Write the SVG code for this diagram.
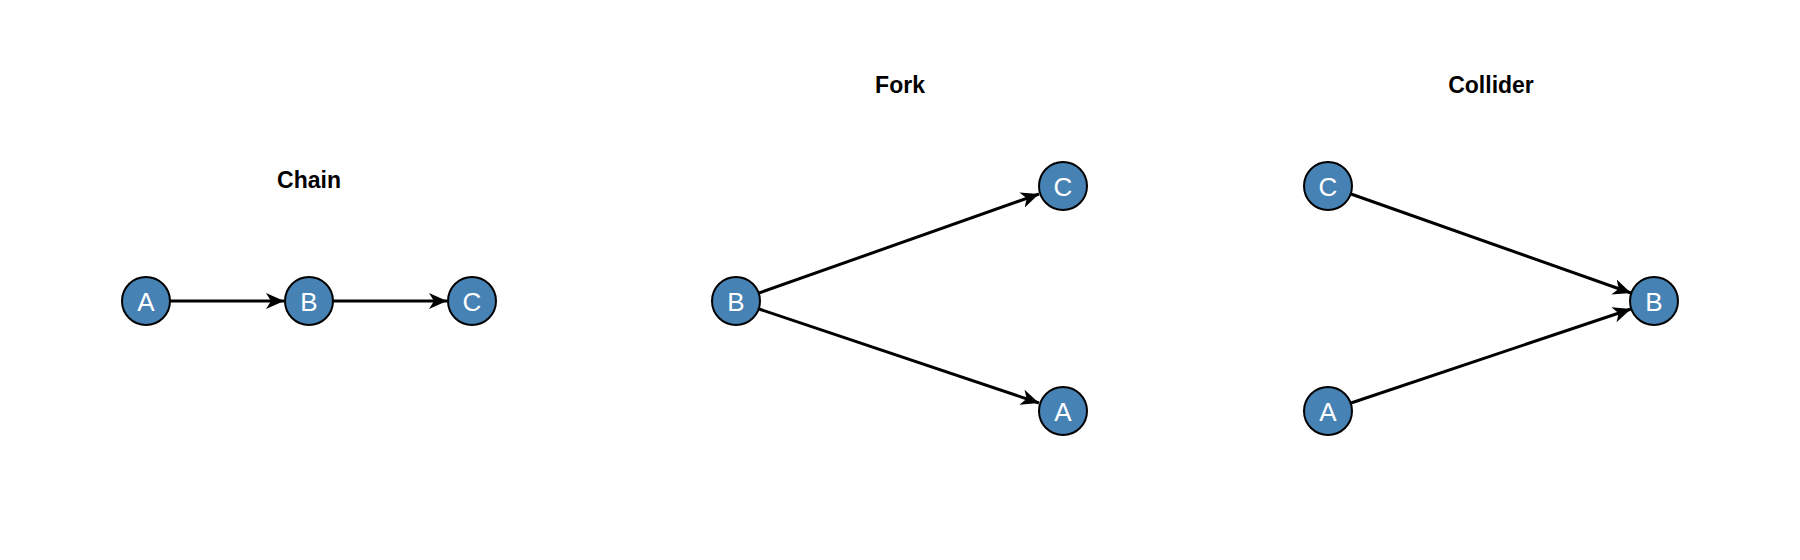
<svg xmlns="http://www.w3.org/2000/svg" width="1800" height="560" viewBox="0 0 1800 560">
<style>
.t{font-family:"Liberation Sans",Arial,sans-serif;font-weight:bold;font-size:23px;fill:#000;text-anchor:middle}
.n circle{fill:#4682B4;stroke:#000;stroke-width:2}
.n text{font-family:"Liberation Sans",Arial,sans-serif;font-size:26px;fill:#fff;text-anchor:middle;dominant-baseline:central}
.e{stroke:#000;stroke-width:3;fill:none;marker-end:url(#ah)}
</style>
<defs><marker id="ah" markerUnits="userSpaceOnUse" markerWidth="20" markerHeight="16" refX="18" refY="8" orient="auto"><path d="M0,0 L18,8 L0,16 L5,8 Z" fill="#000"/></marker></defs>
<rect width="1800" height="560" fill="#fff"/>
<text class="t" x="309" y="188">Chain</text>
<text class="t" x="900" y="93">Fork</text>
<text class="t" x="1491" y="93">Collider</text>
<g id="connectors">
<line class="e" x1="170" y1="301" x2="284" y2="301"/>
<line class="e" x1="333" y1="301" x2="447" y2="301"/>
<line class="e" x1="759" y1="293" x2="1039" y2="194"/>
<line class="e" x1="759" y1="309" x2="1039" y2="403"/>
<line class="e" x1="1351" y1="194" x2="1631" y2="293"/>
<line class="e" x1="1351" y1="403" x2="1631" y2="309"/>
</g>
<g id="chain-A" class="n"><circle cx="146" cy="301" r="24"/><text x="146" y="302">A</text></g>
<g id="chain-B" class="n"><circle cx="309" cy="301" r="24"/><text x="309" y="302">B</text></g>
<g id="chain-C" class="n"><circle cx="472" cy="301" r="24"/><text x="472" y="302">C</text></g>
<g id="fork-B" class="n"><circle cx="736" cy="301" r="24"/><text x="736" y="302">B</text></g>
<g id="fork-C" class="n"><circle cx="1063" cy="186" r="24"/><text x="1063" y="187">C</text></g>
<g id="fork-A" class="n"><circle cx="1063" cy="411" r="24"/><text x="1063" y="412">A</text></g>
<g id="collider-C" class="n"><circle cx="1328" cy="186" r="24"/><text x="1328" y="187">C</text></g>
<g id="collider-A" class="n"><circle cx="1328" cy="411" r="24"/><text x="1328" y="412">A</text></g>
<g id="collider-B" class="n"><circle cx="1654" cy="301" r="24"/><text x="1654" y="302">B</text></g>
</svg>
